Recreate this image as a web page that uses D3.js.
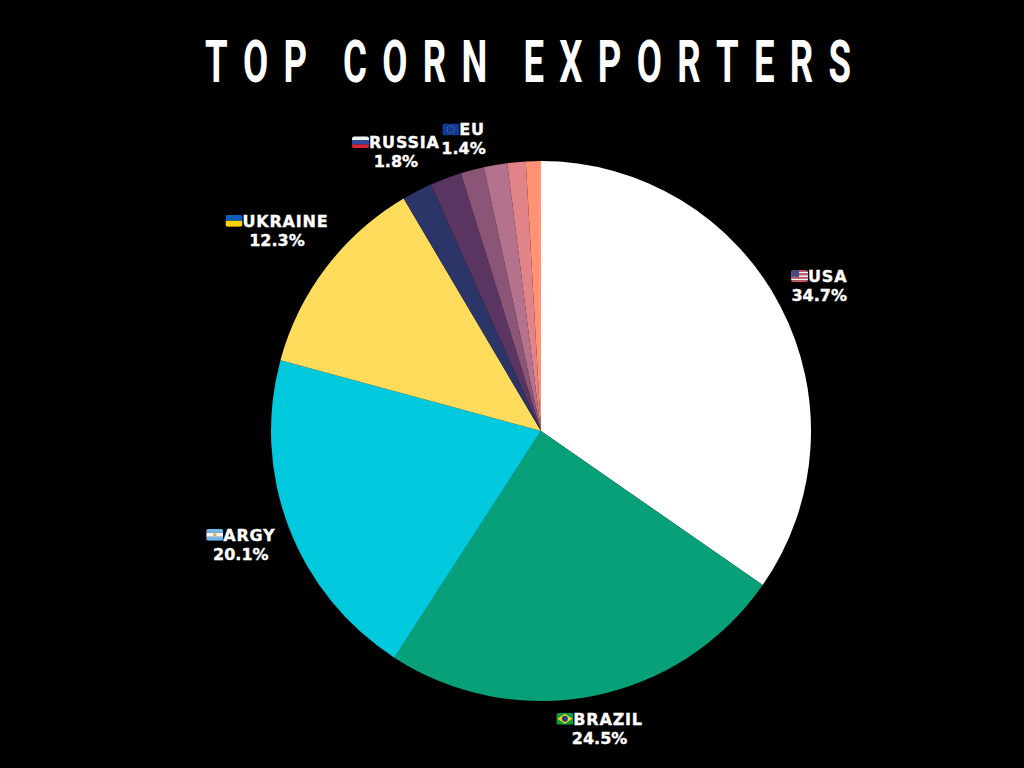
<!DOCTYPE html>
<html>
<head>
<meta charset="utf-8">
<script src="https://cdnjs.cloudflare.com/ajax/libs/d3/7.8.5/d3.min.js"></script>
<style>
html, body { margin: 0; padding: 0; background: #000; }
svg { display: block; }
.title { font-family: Roboto, sans-serif; font-weight: 700; fill: #fff; font-kerning: none; }
.lbl { font-family: "DejaVu Sans", sans-serif; font-weight: 700; font-size: 16px; fill: #fff; stroke: #fff; stroke-width: 0.35px; }
.name { letter-spacing: 0.8px; }
</style>
</head>
<body>
<div id="chart"></div>
<script>
const titleText = "TOP CORN EXPORTERS";
const labels = ["USA", "BRAZIL", "ARGY", "UKRAINE", "RUSSIA", null, "EU", null, null, null];
const values = [34.7, 24.5, 20.1, 12.3, 1.8, 1.9, 1.4, 1.4, 1.1, 0.9];
const colors = ["#ffffff", "#08a078", "#00c9dd", "#ffdc5c", "#2c3568", "#5a3562", "#8a5577", "#b5728c", "#e0848a", "#ff9373"];
// nudges for the outside labels, the source placed them a bit unevenly
const nudgeX = [2.5, -4.5, -3.5, 2, 5, 0, 0, 0, 0, 0];
const nudgeY = [-5, 0, 5, -17, -10, 0, 1, 0, 0, 0];

const width = 1024, height = 768;
const cx = 541, cy = 431, radius = 270, labelRadius = 283;
const flagW = 17, flagH = 12;

const svg = d3.select("#chart").append("svg")
    .attr("width", width)
    .attr("height", height);

svg.append("rect").attr("width", width).attr("height", height).attr("fill", "#000");

// no condensed font around, so squeeze a normal one
svg.append("text")
    .attr("class", "title")
    .attr("font-size", 59)
    .attr("letter-spacing", 24.7)
    .attr("word-spacing", -6)
    .attr("transform", "translate(205,82) scale(0.62,1)")
    .text(titleText);

const pie = d3.pie().sort(null).value(d => d);
const arc = d3.arc().innerRadius(0).outerRadius(radius);
const arcs = pie(values);

const chart = svg.append("g").attr("transform", `translate(${cx},${cy})`);

chart.selectAll("path")
    .data(arcs)
    .enter().append("path")
    .attr("d", arc)
    .attr("fill", (d, i) => colors[i]);

const defs = svg.append("defs");
defs.append("clipPath").attr("id", "flagClip")
    .append("rect").attr("width", flagW).attr("height", flagH).attr("rx", 2.5);

function bands(g, cols) {
    const y = d3.scaleBand().domain(d3.range(cols.length)).range([0, flagH]);
    g.selectAll(null).data(cols).enter().append("rect")
        .attr("y", (d, i) => y(i))
        .attr("width", flagW)
        .attr("height", y.bandwidth())
        .attr("fill", d => d);
}

const flags = {
    USA(g) {
        bands(g, ["#d8525f", "#f4f4f4", "#d8525f", "#f4f4f4", "#d8525f", "#f4f4f4", "#d8525f"]);
        g.append("rect").attr("width", 8).attr("height", 6.8).attr("fill", "#49497f");
    },
    BRAZIL(g) {
        bands(g, ["#0b9c3e"]);
        g.append("path").attr("d", "M8.5,1L16,6L8.5,11L1,6Z").attr("fill", "#f7d417");
        g.append("circle").attr("cx", 8.5).attr("cy", 6).attr("r", 3).attr("fill", "#1f3f8c");
    },
    ARGY(g) {
        bands(g, ["#74b6e6", "#f5f5f5", "#74b6e6"]);
        g.append("circle").attr("cx", 8.5).attr("cy", 6).attr("r", 1.7).attr("fill", "#e8a33d");
    },
    UKRAINE(g) {
        bands(g, ["#0c5fb8", "#ffd500"]);
    },
    RUSSIA(g) {
        bands(g, ["#f2f2f2", "#2f4a9c", "#d5283b"]);
    },
    EU(g) {
        bands(g, ["#0f3a96"]);
        const a = d3.scaleLinear().domain([0, 12]).range([0, 2 * Math.PI]);
        g.selectAll(null).data(d3.range(12)).enter().append("circle")
            .attr("cx", d => 8.5 + 3.6 * Math.sin(a(d)))
            .attr("cy", d => 6 - 3.6 * Math.cos(a(d)))
            .attr("r", 0.45)
            .attr("fill", "#d9b92a");
    }
};

// labels sit outside the rim, pushed out by half their own width
arcs.forEach((d, i) => {
    if (!labels[i]) return;
    const mid = (d.startAngle + d.endAngle) / 2;
    const g = svg.append("g");
    const name = g.append("text").attr("class", "lbl name").text(labels[i]);
    const pct = g.append("text").attr("class", "lbl").attr("text-anchor", "middle").text(d.value.toFixed(1) + "%");
    const nameW = name.node().getComputedTextLength();
    const total = nameW + flagW;
    const lx = cx + Math.sin(mid) * (labelRadius + total / 2) + nudgeX[i];
    const ly = cy - Math.cos(mid) * (labelRadius + 20) + nudgeY[i];
    const left = lx - total / 2;
    name.attr("x", left + flagW).attr("y", ly - 3.5);
    pct.attr("x", lx).attr("y", ly + 15.5);
    const f = g.append("g")
        .attr("transform", `translate(${left},${ly - 15.5})`)
        .append("g").attr("clip-path", "url(#flagClip)");
    flags[labels[i]](f);
});
</script>
</body>
</html>
